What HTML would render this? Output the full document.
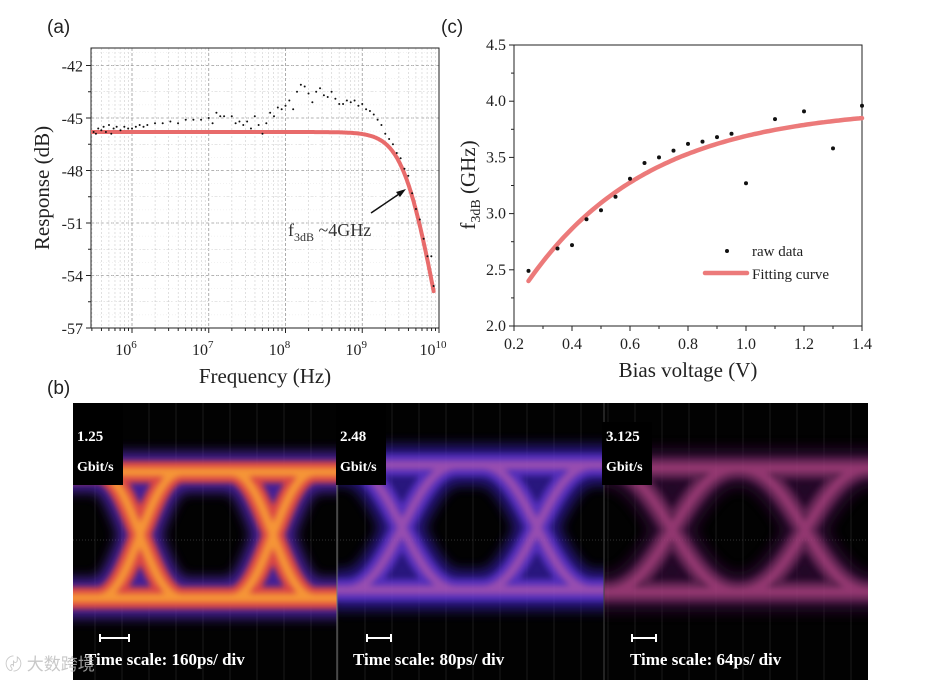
<!DOCTYPE html>
<html><head><meta charset="utf-8">
<style>
html,body{margin:0;padding:0;background:#fff;}
body{width:935px;height:684px;overflow:hidden;position:relative;}
svg{position:absolute;left:0;top:0;}
</style></head>
<body>
<svg id="fig" width="935" height="684" viewBox="0 0 935 684" xmlns="http://www.w3.org/2000/svg">
<defs>
<filter id="blur3" filterUnits="userSpaceOnUse" x="0" y="380" width="935" height="320"><feGaussianBlur stdDeviation="3"/></filter>
<filter id="blur6" filterUnits="userSpaceOnUse" x="0" y="380" width="935" height="320"><feGaussianBlur stdDeviation="6"/></filter>
<clipPath id="clipA"><rect x="91" y="48" width="348" height="280"/></clipPath>
<clipPath id="eye1"><rect x="73" y="403" width="264" height="277"/></clipPath>
<clipPath id="eye2"><rect x="337" y="403" width="267" height="277"/></clipPath>
<clipPath id="eye3"><rect x="604" y="403" width="264" height="277"/></clipPath>
</defs>
<g id="panelA"></g>
<g id="panelC"></g>
<g id="panelB"></g>
</svg>
<script>
// ---------- Panel (a) data ----------
const respLogF = [5.5,5.53,5.56,5.6,5.63,5.66,5.7,5.73,5.76,5.8,5.85,5.9,5.95,6.0,6.05,6.1,6.15,6.2,6.3,6.4,6.5,6.6,6.7,6.8,6.9,7.0,7.05,7.1,7.15,7.2,7.3,7.35,7.4,7.45,7.5,7.55,7.6,7.65,7.7,7.75,7.8,7.85,7.9,7.95,8.0,8.05,8.1,8.15,8.2,8.25,8.3,8.35,8.4,8.45,8.5,8.55,8.6,8.65,8.7,8.75,8.8,8.85,8.9,8.95,9.0,9.05,9.1,9.15,9.2,9.25,9.3,9.35,9.4,9.45,9.5,9.55,9.6,9.65,9.7,9.75,9.8,9.85,9.9,9.93];
const respDb = [-45.8,-45.9,-45.6,-45.7,-45.5,-45.8,-45.4,-45.9,-45.6,-45.5,-45.7,-45.5,-45.6,-45.6,-45.5,-45.4,-45.5,-45.4,-45.3,-45.3,-45.2,-45.3,-45.1,-45.1,-45.1,-45.0,-45.3,-44.7,-44.9,-44.9,-44.9,-45.3,-45.2,-45.4,-45.2,-45.6,-44.9,-45.4,-45.9,-45.3,-44.7,-44.9,-44.4,-44.5,-44.3,-44.0,-44.5,-43.5,-43.1,-43.2,-43.6,-44.1,-43.5,-43.3,-43.7,-43.8,-43.5,-43.9,-44.2,-44.2,-44.0,-44.1,-44.0,-44.3,-44.2,-44.5,-44.6,-44.8,-45.1,-45.4,-45.9,-46.2,-46.5,-47.0,-47.3,-47.9,-48.3,-49.3,-50.2,-50.8,-51.9,-52.9,-52.9,-54.6];
const fitFlatDb = [-45.8];
const fitCornerHz = [4e9];
const fitOrder = [2.6];
const aYTicks = [-42,-45,-48,-51,-54,-57];
const aXTicks = [6,7,8,9,10];

// ---------- Panel (c) data ----------
const biasV = [0.25,0.35,0.4,0.45,0.5,0.55,0.6,0.65,0.7,0.75,0.8,0.85,0.9,0.95,1.0,1.1,1.2,1.3,1.4];
const f3dbGHz = [2.49,2.69,2.72,2.95,3.03,3.15,3.31,3.45,3.50,3.56,3.62,3.64,3.68,3.71,3.27,3.84,3.91,3.58,3.96];
const fitA = [3.95];
const fitB = [1.55];
const fitTau = [0.42];
const cXTicks = [0.2,0.4,0.6,0.8,1.0,1.2,1.4];
const cYTicks = [2.0,2.5,3.0,3.5,4.0,4.5];

const NS="http://www.w3.org/2000/svg";
function mk(parent,tag,attrs,text){const e=document.createElementNS(NS,tag);for(const k in attrs)e.setAttribute(k,attrs[k]);if(text!==undefined)e.textContent=text;parent.appendChild(e);return e;}
const serif='"Liberation Serif", serif', sans='"Liberation Sans", sans-serif';

// ===== Panel A =====
(function(){
const g=document.getElementById('panelA');
const L=91,R=439,T=48,B=328;
const xA=lf=>132+(lf-6)*76.75;
const yA=db=>48+(-41-db)*17.5;
let t=mk(g,'text',{x:47,y:33,'font-family':sans,'font-size':19,fill:'#222'},'(a)');

const grid=mk(g,'g',{'clip-path':'url(#clipA)'});

for(let d=5;d<=9;d++){for(let m=1;m<=9;m++){const lf=d+Math.log10(m);const x=xA(lf);if(x<L||x>R)continue;
 mk(grid,'line',{x1:x,x2:x,y1:T,y2:B,stroke:m==1?'#999':'#ccc','stroke-width':m==1?0.8:0.6,'stroke-dasharray':m==1?'3,2':'2,2'});}}
for(let v=-42;v>=-57;v-=1.5){const y=yA(v);const maj=(Math.round(v)===v&&(v+42)%3===0);
 mk(grid,'line',{x1:L,x2:R,y1:y,y2:y,stroke:maj?'#999':'#ccc','stroke-width':maj?0.8:0.6,'stroke-dasharray':maj?'3,2':'2,2'});}
for(let v=-41.25;v>=-57;v-=0.75){const y=yA(v);mk(grid,'line',{x1:L,x2:R,y1:y,y2:y,stroke:'#e6e6e6','stroke-width':0.5,'stroke-dasharray':'1,2'});}
const fr=mk(g,'rect',{x:L,y:T,width:R-L,height:B-T,fill:'none',stroke:'#222','stroke-width':1});

aYTicks.forEach(v=>{const y=yA(v);mk(g,'line',{x1:L-5,x2:L,y1:y,y2:y,stroke:'#222'});
 const tl=mk(g,'text',{x:L-8,y:y+6,'text-anchor':'end','font-family':serif,'font-size':16,fill:'#222'},String(v));
 });
for(let v=-43.5;v>=-57;v-=3){const y=yA(v);mk(g,'line',{x1:L-3,x2:L,y1:y,y2:y,stroke:'#222'});}
aXTicks.forEach(p=>{const x=xA(p);mk(g,'line',{x1:x,x2:x,y1:B,y2:B+5,stroke:'#222'});
 const tl=mk(g,'text',{x:x-6,y:B+27,'text-anchor':'middle','font-family':serif,'font-size':16,fill:'#222'});
 
 tl.appendChild(document.createTextNode('10'));
 mk(tl,'tspan',{dy:-7,'font-size':11},String(p));});
for(let d=5;d<=9;d++)for(let m=2;m<=9;m++){const x=xA(d+Math.log10(m));if(x<L||x>R)continue;mk(g,'line',{x1:x,x2:x,y1:B,y2:B+3,stroke:'#222'});}
let yt=mk(g,'text',{x:0,y:0,transform:'translate(49,188) rotate(-90)','text-anchor':'middle','font-family':serif,'font-size':21,fill:'#222'},'Response (dB)');

let xt=mk(g,'text',{x:265,y:383,'text-anchor':'middle','font-family':serif,'font-size':21,fill:'#222'},'Frequency (Hz)');

let d='';for(let lf=5.47;lf<=9.93;lf+=0.01){const f=Math.pow(10,lf);const db=fitFlatDb[0]-10*Math.log10(1+Math.pow(f/fitCornerHz[0],fitOrder[0]));d+=(d?'L':'M')+xA(lf).toFixed(1)+','+yA(db).toFixed(1);}
const fc=mk(g,'path',{d:d,fill:'none',stroke:'#e86b6b','stroke-width':4,'stroke-linecap':'round','clip-path':'url(#clipA)'});

const pts=mk(g,'g',{'clip-path':'url(#clipA)'});

respLogF.forEach((lf,i)=>{const c=mk(pts,'circle',{cx:xA(lf),cy:yA(respDb[i]),r:1,fill:'#111'});
 });
const an=mk(g,'text',{x:288,y:236,'font-family':serif,'font-size':18,fill:'#333'});

an.appendChild(document.createTextNode('f'));mk(an,'tspan',{dy:5,'font-size':12},'3dB');mk(an,'tspan',{dy:-5},' ~4GHz');
const ar=mk(g,'line',{x1:371,y1:213,x2:402,y2:192,stroke:'#111','stroke-width':1.5});

mk(g,'path',{d:'M406,189 L396,192 L400,197 Z',fill:'#111'});
})();

// ===== Panel C =====
(function(){
const g=document.getElementById('panelC');
const L=514,R=862,T=45,B=326;
const xC=v=>514+(v-0.2)*290;
const yC=v=>326-(v-2.0)*112.4;
let t=mk(g,'text',{x:441,y:33,'font-family':sans,'font-size':19,fill:'#222'},'(c)');

const fr=mk(g,'rect',{x:L,y:T,width:R-L,height:B-T,fill:'none',stroke:'#222','stroke-width':1});

cYTicks.forEach(v=>{const y=yC(v);mk(g,'line',{x1:L-5,x2:L,y1:y,y2:y,stroke:'#222'});
 const tl=mk(g,'text',{x:L-8,y:y+5,'text-anchor':'end','font-family':serif,'font-size':16,fill:'#222'},v.toFixed(1));
 });
for(let v=2.25;v<4.5;v+=0.5){const y=yC(v);mk(g,'line',{x1:L-3,x2:L,y1:y,y2:y,stroke:'#222'});}
cXTicks.forEach(v=>{const x=xC(v);mk(g,'line',{x1:x,x2:x,y1:B,y2:B+5,stroke:'#222'});
 const tl=mk(g,'text',{x:x,y:B+23,'text-anchor':'middle','font-family':serif,'font-size':16,fill:'#222'},v.toFixed(1));
 });
for(let v=0.3;v<1.4;v+=0.2){const x=xC(v);mk(g,'line',{x1:x,x2:x,y1:B,y2:B+3,stroke:'#222'});}
let yt=mk(g,'text',{x:0,y:0,transform:'translate(475,185) rotate(-90)','text-anchor':'middle','font-family':serif,'font-size':21,fill:'#222'});

yt.appendChild(document.createTextNode('f'));mk(yt,'tspan',{dy:5,'font-size':14},'3dB');mk(yt,'tspan',{dy:-5},' (GHz)');
let xt=mk(g,'text',{x:688,y:377,'text-anchor':'middle','font-family':serif,'font-size':21,fill:'#222'},'Bias voltage (V)');

let d='';for(let v=0.25;v<=1.4001;v+=0.01){const y=fitA[0]-fitB[0]*Math.exp(-(v-0.25)/fitTau[0]);d+=(d?'L':'M')+xC(v).toFixed(1)+','+yC(y).toFixed(1);}
const fc=mk(g,'path',{d:d,fill:'none',stroke:'#ec7a7a','stroke-width':4.5,'stroke-linecap':'round'});

biasV.forEach((v,i)=>{const c=mk(g,'circle',{cx:xC(v),cy:yC(f3dbGHz[i]),r:2,fill:'#111'});
 });
const lg=mk(g,'g',{});
mk(lg,'circle',{cx:727,cy:251,r:2,fill:'#111'});
let l1=mk(lg,'text',{x:752,y:256,'font-family':serif,'font-size':15,fill:'#222'},'raw data');

mk(lg,'line',{x1:705,x2:747,y1:273,y2:273,stroke:'#ec7a7a','stroke-width':4.5,'stroke-linecap':'round'});
let l2=mk(lg,'text',{x:752,y:279,'font-family':serif,'font-size':15,fill:'#222'},'Fitting curve');

})();

// ===== Panel B (eye diagrams) =====
(function(){
const g=document.getElementById('panelB');
let t=mk(g,'text',{x:47,y:394,'font-family':sans,'font-size':19,fill:'#222'},'(b)');

const bg=mk(g,'rect',{x:73,y:403,width:795,height:277,fill:'#020202'});

for(let x=95;x<868;x+=27){mk(g,'line',{x1:x,x2:x,y1:403,y2:680,stroke:'#1a1a1a','stroke-width':1});}
mk(g,'line',{x1:73,x2:868,y1:540,y2:540,stroke:'#333','stroke-width':1,'stroke-dasharray':'1,2'});
const eyes=[
 {clip:'eye1',x0:60,x1:350,cx:[140,273],yT:472,yB:598,d:42,outer:'#5a2cc8',mid:'#ff5030',core:'#ffb030',op:1,name:'eye-1-25gbps'},
 {clip:'eye2',x0:330,x1:615,cx:[402,537],yT:465,yB:590,d:55,outer:'#3a22b8',mid:'#6a3ae0',core:'#c060c0',op:0.9,name:'eye-2-48gbps'},
 {clip:'eye3',x0:595,x1:880,cx:[672,805],yT:468,yB:592,d:65,outer:'#3a1040',mid:'#80306a',core:'#c04a90',op:0.85,name:'eye-3-125gbps'}];
eyes.forEach(e=>{
 const eg=mk(g,'g',{'clip-path':'url(#'+e.clip+')',opacity:e.op});
 
 let p='M'+e.x0+','+e.yT+' L'+e.x1+','+e.yT+' M'+e.x0+','+e.yB+' L'+e.x1+','+e.yB;
 e.cx.forEach(c=>{const d=e.d;
  p+=' M'+(c-d)+','+e.yT+' C'+(c-0.15*d)+','+e.yT+' '+(c+0.15*d)+','+e.yB+' '+(c+d)+','+e.yB;
  p+=' M'+(c-d)+','+e.yB+' C'+(c-0.15*d)+','+e.yB+' '+(c+0.15*d)+','+e.yT+' '+(c+d)+','+e.yT;});
 mk(eg,'path',{d:p,fill:'none',stroke:e.outer,'stroke-width':40,filter:'url(#blur6)',opacity:0.75});
 mk(eg,'path',{d:p,fill:'none',stroke:e.mid,'stroke-width':22,filter:'url(#blur3)',opacity:0.8});
 mk(eg,'path',{d:p,fill:'none',stroke:e.core,'stroke-width':9,filter:'url(#blur3)',opacity:0.75});
});
mk(g,'line',{x1:337,x2:337,y1:403,y2:680,stroke:'#777','stroke-width':1});
mk(g,'line',{x1:604,x2:604,y1:403,y2:680,stroke:'#444','stroke-width':1});
const labels=[{bx:73,by:403,bw:50,x:77,r:'1.25'},{bx:336,by:403,bw:50,x:340,r:'2.48'},{bx:602,by:422,bw:50,x:606,r:'3.125'}];
labels.forEach(l=>{mk(g,'rect',{x:l.bx,y:l.by,width:l.bw,height:485-l.by,fill:'#000'});
 const a=mk(g,'text',{x:l.x,y:441,'font-family':serif,'font-size':15,'font-weight':'bold',fill:'#fff'},l.r);
 
 const b=mk(g,'text',{x:l.x,y:471,'font-family':serif,'font-size':14,'font-weight':'bold',fill:'#fff'},'Gbit/s');
 });
const scales=[{x1:100,x2:129,tx:85,s:'Time scale: 160ps/ div'},{x1:367,x2:391,tx:353,s:'Time scale: 80ps/ div'},{x1:632,x2:656,tx:630,s:'Time scale: 64ps/ div'}];
scales.forEach(s=>{mk(g,'path',{d:'M'+s.x1+','+638+' L'+s.x2+',638 M'+s.x1+',634 L'+s.x1+',642 M'+s.x2+',634 L'+s.x2+',642',stroke:'#fff','stroke-width':2});
 const a=mk(g,'text',{x:s.tx,y:665,'font-family':serif,'font-size':17,'font-weight':'bold',fill:'#fff'},s.s);
 });
const w=mk(g,'text',{x:5,y:670,'font-family':'"Liberation Sans","Noto Sans CJK SC",sans-serif','font-size':17,fill:'#bbb',opacity:0.8},'〄 大数跨境');

})();
</script>
</body></html>
